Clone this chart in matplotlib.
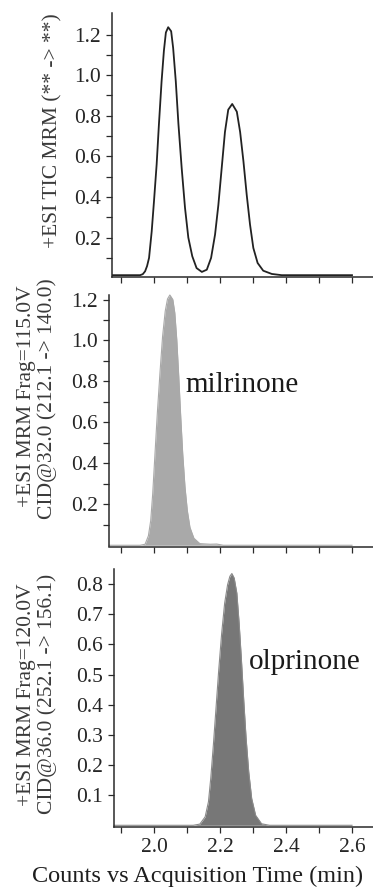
import matplotlib
matplotlib.use("Agg")
import matplotlib.pyplot as plt
from matplotlib.ticker import FixedLocator, NullFormatter

plt.rcParams["font.family"] = ["Liberation Serif", "DejaVu Serif"]

# Total ion chromatogram (TIC) trace
tic_time = [1.873, 1.958, 1.966, 1.973, 1.979, 1.985, 1.993, 2.000, 2.008, 2.015,
            2.023, 2.030, 2.036, 2.043, 2.052, 2.058, 2.066, 2.074, 2.084, 2.094,
            2.104, 2.116, 2.129, 2.145, 2.160, 2.173, 2.185, 2.195, 2.205, 2.215,
            2.225, 2.237, 2.251, 2.261, 2.271, 2.281, 2.291, 2.301, 2.314, 2.331,
            2.357, 2.387, 2.600]
tic_counts = [0.015, 0.015, 0.020, 0.034, 0.060, 0.100, 0.230, 0.380, 0.560, 0.760,
              0.970, 1.120, 1.210, 1.236, 1.216, 1.134, 0.970, 0.760, 0.540, 0.346,
              0.200, 0.108, 0.050, 0.031, 0.042, 0.100, 0.215, 0.360, 0.540, 0.720,
              0.830, 0.858, 0.820, 0.720, 0.576, 0.410, 0.264, 0.149, 0.075, 0.037,
              0.021, 0.015, 0.015]

# Milrinone MRM transition 212.1 -> 140.0
mil_time = [1.864, 1.958, 1.973, 1.983, 1.990, 1.996, 2.003, 2.010, 2.018, 2.026,
            2.034, 2.041, 2.048, 2.057, 2.063, 2.069, 2.075, 2.081, 2.087, 2.094,
            2.101, 2.109, 2.121, 2.139, 2.170, 2.190, 2.210, 2.600]
mil_counts = [0.0, 0.0, 0.005, 0.046, 0.120, 0.250, 0.447, 0.643, 0.840, 1.020,
              1.143, 1.203, 1.222, 1.200, 1.135, 1.004, 0.824, 0.627, 0.447, 0.283,
              0.169, 0.087, 0.034, 0.008, 0.005, 0.006, 0.0, 0.0]

# Olprinone MRM transition 252.1 -> 156.1
olp_time = [1.879, 2.119, 2.139, 2.155, 2.165, 2.172, 2.180, 2.188, 2.196, 2.205,
            2.214, 2.223, 2.230, 2.236, 2.243, 2.251, 2.258, 2.265, 2.272, 2.279,
            2.287, 2.296, 2.308, 2.326, 2.350, 2.600]
olp_counts = [0.0, 0.0, 0.004, 0.028, 0.078, 0.156, 0.268, 0.390, 0.513, 0.636,
              0.736, 0.798, 0.826, 0.835, 0.820, 0.770, 0.670, 0.547, 0.413, 0.290,
              0.178, 0.089, 0.033, 0.005, 0.0, 0.0]

x_major = [2.0, 2.2, 2.4, 2.6]
x_minor = [1.9, 2.1, 2.3, 2.5]
x_labels = ["2.0", "2.2", "2.4", "2.6"]

W, H = 373, 890
fig = plt.figure(figsize=(W / 100, H / 100), dpi=100)

PX_PER_MIN = 330.0
T_REF, PX_REF = 2.0, 154.0


def make_axes(left_px, top_px, bottom_px):
    return fig.add_axes([left_px / W, 1 - bottom_px / H,
                         (W - left_px) / W, (bottom_px - top_px) / H])


def style(ax, left_px, ylim, y_major, y_minor, y_labels, show_x):
    ax.set_xlim(T_REF - (PX_REF - left_px) / PX_PER_MIN,
                T_REF + (W - PX_REF) / PX_PER_MIN)
    ax.set_ylim(*ylim)
    for s in ("top", "right"):
        ax.spines[s].set_visible(False)
    for s in ("left", "bottom"):
        ax.spines[s].set_color("#2a2a2a")
        ax.spines[s].set_linewidth(1.1)
    ax.yaxis.set_major_locator(FixedLocator(y_major))
    ax.set_yticklabels(y_labels)
    ax.yaxis.set_minor_locator(FixedLocator(y_minor))
    ax.xaxis.set_major_locator(FixedLocator(x_major))
    ax.xaxis.set_minor_locator(FixedLocator(x_minor))
    if show_x:
        ax.set_xticklabels(x_labels)
    else:
        ax.xaxis.set_major_formatter(NullFormatter())
    ax.tick_params(which="both", direction="out", length=4, width=0.9,
                   color="#2a2a2a", labelsize=15.5, labelcolor="#262626", pad=4)
    ax.set_facecolor("none")


# Top: TIC
ax1 = make_axes(112, 13, 277)
ax1.plot(tic_time, tic_counts, color="#222222", lw=1.3, solid_joinstyle="round")
style(ax1, 112, (0.006, 1.306),
      [0.2, 0.4, 0.6, 0.8, 1.0, 1.2], [0.1, 0.3, 0.5, 0.7, 0.9, 1.1],
      ["0.2", "0.4", "0.6", "0.8", "1.0", "1.2"], False)

# Middle: milrinone
ax2 = make_axes(109, 295, 546.5)
ax2.fill_between(mil_time, mil_counts, 0, color="#a9a9a9", lw=0, clip_on=False)
ax2.plot(mil_time, mil_counts, color="#a9a9a9", lw=0.8, clip_on=False)
style(ax2, 109, (-0.006, 1.222),
      [0.2, 0.4, 0.6, 0.8, 1.0, 1.2], [0.1, 0.3, 0.5, 0.7, 0.9, 1.1],
      ["0.2", "0.4", "0.6", "0.8", "1.0", "1.2"], False)
ax2.text(2.094, 0.75, "milrinone", fontsize=21, color="#1a1a1a",
         ha="left", va="baseline")

# Bottom: olprinone
ax3 = make_axes(114, 569, 826.5)
ax3.fill_between(olp_time, olp_counts, 0, color="#777777", lw=0, clip_on=False)
ax3.plot(olp_time, olp_counts, color="#8a8a8a", lw=0.8, clip_on=False)
style(ax3, 114, (-0.004, 0.85),
      [0.1, 0.2, 0.3, 0.4, 0.5, 0.6, 0.7, 0.8], [],
      ["0.1", "0.2", "0.3", "0.4", "0.5", "0.6", "0.7", "0.8"], True)
ax3.text(2.289, 0.517, "olprinone", fontsize=21, color="#1a1a1a",
         ha="left", va="baseline")

# Axis titles
lab = dict(rotation=90, ha="center", va="center", fontsize=15.5, color="#3a3a3a")
fig.text(53 / W, 1 - 131 / H, "+ESI TIC MRM (** -> **)", **lab)
fig.text(27 / W, 1 - 396 / H, "+ESI MRM Frag=115.0V", **lab)
fig.text(47 / W, 1 - 399 / H, "CID@32.0 (212.1 -> 140.0)", **lab)
fig.text(27 / W, 1 - 695 / H, "+ESI MRM Frag=120.0V", **lab)
fig.text(47 / W, 1 - 694 / H, "CID@36.0 (252.1 -> 156.1)", **lab)
fig.text(197.5 / W, 1 - 882 / H, "Counts vs Acquisition Time (min)",
         ha="center", va="baseline", fontsize=17.5, color="#1e1e1e")

fig.savefig("out.png", dpi=100, facecolor="white")
